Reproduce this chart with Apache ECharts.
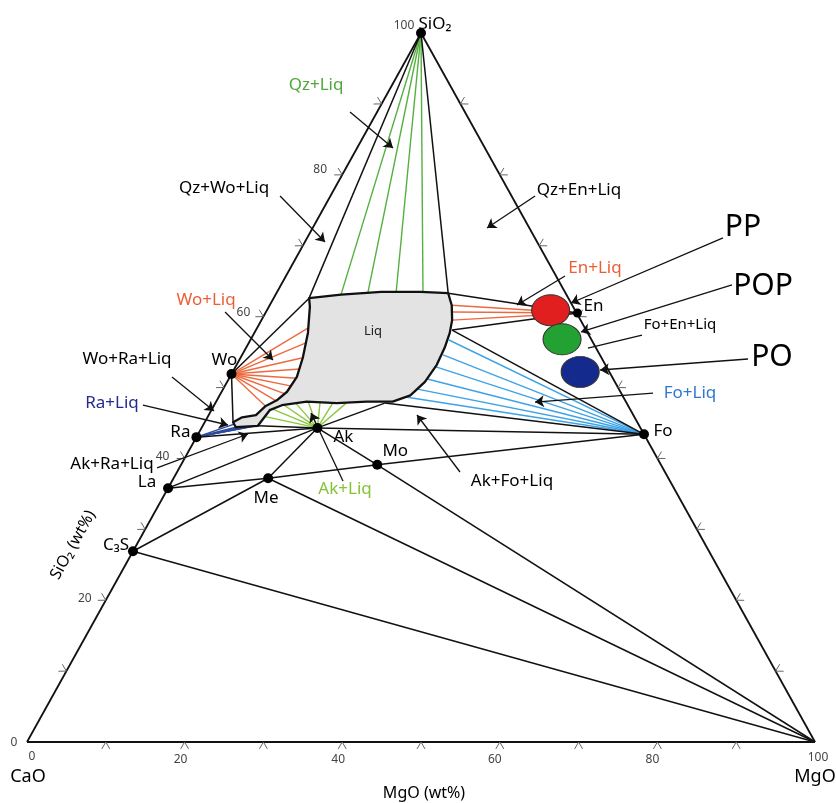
<!DOCTYPE html>
<html>
<head>
<meta charset="utf-8">
<title>CaO–MgO–SiO2</title>
<script src="https://cdn.jsdelivr.net/npm/echarts@6/dist/echarts.min.js"></script>
<style>
html,body{margin:0;padding:0;background:#fff;}
#chart{width:836px;height:803px;}
</style>
</head>
<body>
<div id="chart"></div>
<script>
// ===== DATA: compositions in wt%, given as MgO and SiO2 (CaO = remainder) =====
const phaseNames = ['Wo', 'Ra', 'La', 'C₃S', 'Ak', 'Mo', 'Me', 'Fo', 'En'];
const phaseMgO   = [0, 0, 0, 0, 14.7, 24.9, 12.0, 56.6, 39.6];
const phaseSiO2  = [51.9, 43.0, 35.8, 26.9, 44.3, 39.1, 37.2, 43.4, 60.5];

// liquid field boundary (closed)
const liqMgO  = [4.5, 8.3, 13.2, 18.2, 21.8, 23.1, 24.2, 24.8, 25.2, 25.4, 25.1, 24.2, 22.4, 19.1, 15.4, 11.5, 8.6, 7.4, 7.0, 4.3, 3.6, 4.4, 6.0, 6.6, 7.6, 8.3, 8.5, 7.9, 6.8, 5.2];
const liqSiO2 = [62.6, 63.1, 63.5, 63.5, 63.3, 61.6, 59.5, 57.7, 55.6, 53.2, 50.8, 48.9, 48.0, 48.0, 47.8, 48.0, 47.5, 46.8, 44.6, 44.4, 45.1, 45.8, 46.1, 47.4, 48.2, 49.4, 51.5, 54.2, 57.7, 61.4];

// invariant liquids (corners of the three-phase triangles)
const invNames = ['L_QzWo', 'L_QzEn', 'L_EnFo', 'L_AkFo', 'L_WoRa', 'L_RaAk'];
const invMgO   = [4.5, 21.8, 24.9, 21.5, 3.6, 7.0];
const invSiO2  = [62.6, 63.3, 58.1, 47.8, 45.1, 44.6];

// liquids at the ends of the two-phase tie lines
const qzLiqMgO = [8.3, 11.6, 15.1, 18.5];
const qzLiqSiO2 = [63.1, 63.3, 63.5, 63.5];
const woLiqMgO = [6.5, 7.25, 7.9, 8.3, 8.6, 8.5, 8.2, 7.55, 6.7];
const woLiqSiO2 = [58.4, 56.3, 54.2, 52.6, 51.3, 50.2, 49.1, 48.1, 47.3];
const enLiqMgO = [23.1, 23.7, 24.2];
const enLiqSiO2 = [61.6, 60.65, 59.5];
const foLiqMgO = [25.2, 25.5, 25.45, 25.2, 24.5, 23.5];
const foLiqSiO2 = [56.7, 54.6, 52.9, 51.2, 49.8, 48.7];
const akLiqMgO = [6.8, 7.6, 8.9, 10.2, 11.7, 13.2, 14.9, 16.6];
const akLiqSiO2 = [46.0, 47.0, 47.5, 47.8, 48.0, 48.0, 47.8, 47.8];
const raLiqMgO = [3.8, 4.3, 5.0, 5.6, 6.2, 6.8];
const raLiqSiO2 = [44.8, 44.4, 44.4, 44.4, 44.5, 44.6];

// black tie lines / boundaries
const tieFrom = ['SiO2', 'SiO2', 'Wo', 'En', 'En', 'Fo', 'Fo', 'Ak', 'Ak', 'Wo', 'Ra', 'Ak', 'La', 'La', 'Me', 'Mo', 'C₃S', 'C₃S', 'Me', 'Me', 'Ak', 'Mo'];
const tieTo   = ['L_QzWo', 'L_QzEn', 'L_QzWo', 'L_QzEn', 'L_EnFo', 'L_EnFo', 'L_AkFo', 'L_AkFo', 'Fo', 'L_WoRa', 'Ak', 'L_RaAk', 'Ak', 'Me', 'Mo', 'Fo', 'Me', 'MgO', 'MgO', 'Ak', 'Mo', 'MgO'];

// starting materials
const sampleNames = ['PP', 'POP', 'PO'];
const sampleMgO   = [36.0, 39.5, 44.1];
const sampleSiO2  = [60.9, 56.8, 52.2];

// axis ticks and labels
const tickValues = [10, 20, 30, 40, 50, 60, 70, 80, 90];
const tickLabels = [0, 20, 40, 60, 80, 100];

// ===== LAYOUT / STYLE (not data) =====
const FONT = '"Noto Sans", "DejaVu Sans", sans-serif';
const INK = '#000';
const sampleColors = { PP: '#e11f1f', POP: '#23a132', PO: '#142a8c' };
const phaseLabelOffset = { Wo: [-7, -14], Ra: [-16, -5], La: [-21, -6], 'C₃S': [-17, -6], Ak: [26, 9], Mo: [18, -14], Me: [-2, 20], Fo: [19, -3], En: [16, -7] };
const bottomLabelOffset = { 0: [5, 15], 20: [-4, 18], 40: [-4, 18], 60: [-5, 18], 80: [-5, 18], 100: [3, 16] };
const leftLabelOffset = { 0: [-13, 1], 20: [-21, -2], 40: [-22, -2], 60: [-20, -4], 80: [-22, -5], 100: [-17, -7] };
const C_GREEN = '#4fa83c', C_ORANGE = '#ec5f36', C_BLUE = '#2f78d0', C_NAVY = '#262a8c', C_LGREEN = '#84c236';
// annotation anchors, in the same ternary coordinates [MgO, SiO2]
const annotations = [
  { text: 'Qz+Liq', at: [-9.65, 92.66], from: [-3.44, 88.86], to: [4.56, 83.78], color: C_GREEN },
  { text: 'Qz+Wo+Liq', at: [-14.07, 78.14], from: [-6.39, 77.01], to: [2.56, 70.52] },
  { text: 'Qz+En+Liq', at: [31.12, 77.86], from: [25.97, 77.01], to: [22.13, 72.5] },
  { text: 'En+Liq', at: [38.65, 66.85], from: [35.41, 65.73], to: [31.36, 61.64], color: C_ORANGE },
  { text: 'PP', at: [54.54, 72.64], from: [52.78, 71.09], to: [38.08, 61.92], size: 30 },
  { text: 'POP', at: [61.24, 64.32], from: [57.24, 64.46], to: [41.39, 57.83], size: 30 },
  { text: 'Fo+En+Liq', at: [53.46, 58.82], from: [49.35, 57.4], to: [43.4, 55.57], arrow: false, size: 15 },
  { text: 'PO', at: [67.39, 54.3], from: [64.49, 54.02], to: [46.49, 52.47], size: 30 },
  { text: 'Fo+Liq', at: [59.53, 49.22], from: [54.83, 49.22], to: [40.49, 47.95], color: C_BLUE },
  { text: 'Wo+Liq', at: [-8.45, 62.34], from: [-5.19, 60.65], to: [4.28, 53.88], color: C_ORANGE },
  { text: 'Wo+Ra+Liq', at: [-14.32, 54.02], from: [-7.34, 51.48], to: [0.39, 46.69] },
  { text: 'Ra+Liq', at: [-13.12, 47.81], from: [-9.05, 47.53], to: [3.15, 44.71], color: C_NAVY },
  { text: 'Ak+Ra+Liq', at: [-8.82, 39.21], from: [-2.82, 38.65], to: [6.33, 43.44] },
  { text: 'Ak+Liq', at: [22.52, 35.68], from: [21.69, 36.81], to: [12.84, 46.4], color: C_LGREEN },
  { text: 'Ak+Fo+Liq', at: [43.14, 36.81], from: [35.91, 38.08], to: [26.43, 46.12] },
  { text: 'Liq', at: [14.92, 57.97], size: 13, color: '#222' }
];

// ===== BUILD =====
const tern = (m, s) => [m + s / 2, s];   // ternary (MgO, SiO2) -> cartesian plot units
const P = { CaO: [0, 0], MgO: [100, 0], SiO2: [0, 100] };
phaseNames.forEach((n, i) => { P[n] = [phaseMgO[i], phaseSiO2[i]]; });
invNames.forEach((n, i) => { P[n] = [invMgO[i], invSiO2[i]]; });

const fan = (origin, ms, ss) => ms.map((m, i) => ({ coords: [tern(...P[origin]), tern(m, ss[i])] }));
const seg = (a, b) => ({ coords: [tern(...P[a]), tern(...P[b])] });

function linesSeries(data, color, width, z, extra) {
  return Object.assign({
    type: 'lines', coordinateSystem: 'cartesian2d', data: data, silent: true, z: z,
    lineStyle: { color: color, width: width, opacity: 1, curveness: 0 }, symbol: ['none', 'none']
  }, extra || {});
}

function textItems(list) {
  return {
    type: 'scatter', silent: true, clip: false, z: 20, symbolSize: 1,
    itemStyle: { color: 'rgba(255,255,255,0)', opacity: 1 },
    emphasis: { disabled: true },
    data: list.map(it => ({
      value: it.value,
      label: {
        show: true, position: 'inside', formatter: it.text, offset: it.offset || [0, 0],
        fontSize: it.size || 17, color: it.color || INK, fontFamily: FONT,
        align: 'center', verticalAlign: 'middle', opacity: 1, textBorderWidth: 0
      }
    }))
  };
}

const chart = echarts.init(document.getElementById('chart'));

const tieData = tieFrom.map((a, i) => seg(a, tieTo[i]));
const edgeData = [seg('CaO', 'MgO'), seg('MgO', 'SiO2'), seg('SiO2', 'CaO')];

const arrowData = annotations.filter(a => a.from && a.arrow !== false).map(a => ({ coords: [tern(...a.from), tern(...a.to)] }));
const plainLeaderData = annotations.filter(a => a.from && a.arrow === false).map(a => ({ coords: [tern(...a.from), tern(...a.to)] }));

const labelList = annotations.map(a => ({ value: tern(...a.at), text: a.text, size: a.size, color: a.color }));
tickLabels.forEach(v => {
  labelList.push({ value: tern(v, 0), text: String(v), offset: bottomLabelOffset[v], size: 12, color: '#444' });
  labelList.push({ value: tern(0, v), text: String(v), offset: leftLabelOffset[v], size: 12, color: '#444' });
});
labelList.push({ value: tern(0, 0), text: 'CaO', offset: [1, 35], size: 18, color: INK });
labelList.push({ value: tern(100, 0), text: 'MgO', offset: [0, 35], size: 18, color: INK });
labelList.push({ value: tern(0, 100), text: 'SiO₂', offset: [14, -9], size: 17, color: INK });

const option = {
  animation: false,
  backgroundColor: '#fff',
  textStyle: { fontFamily: FONT },
  grid: { left: 27, top: 33, width: 788, height: 709, containLabel: false },
  xAxis: { type: 'value', min: 0, max: 100, show: false },
  yAxis: { type: 'value', min: 0, max: 100, show: false },
  graphic: [
    { type: 'text', x: 424, y: 793, z: 30,
      style: { text: 'MgO (wt%)', font: '16px ' + FONT, fill: INK, align: 'center', verticalAlign: 'middle', textAlign: 'center', textVerticalAlign: 'middle' } },
    { type: 'text', x: 73, y: 545, rotation: 60.9 * Math.PI / 180, z: 30,
      style: { text: 'SiO₂ (wt%)', font: '16px ' + FONT, fill: INK, align: 'center', verticalAlign: 'middle', textAlign: 'center', textVerticalAlign: 'middle' } }
  ],
  series: [
    // coloured two-phase tie lines
    linesSeries(fan('SiO2', qzLiqMgO, qzLiqSiO2), '#55b040', 1.4, 2),
    linesSeries(fan('Wo', woLiqMgO, woLiqSiO2), '#ec6a40', 1.4, 2),
    linesSeries(fan('En', enLiqMgO, enLiqSiO2), '#ec6a40', 1.4, 2),
    linesSeries(fan('Fo', foLiqMgO, foLiqSiO2), '#3ea2e6', 1.4, 2),
    linesSeries(fan('Ak', akLiqMgO, akLiqSiO2), '#8cc63e', 1.4, 2),
    linesSeries(fan('Ra', raLiqMgO, raLiqSiO2), '#2d4a9e', 1.5, 2),
    // black tie lines and triangle edges
    linesSeries(tieData, '#111', 1.5, 3),
    linesSeries(edgeData, '#111', 1.8, 3),
    // liquid field
    {
      type: 'custom', coordinateSystem: 'cartesian2d', data: [[0, 0]], z: 4, silent: true,
      renderItem: function (params, api) {
        return {
          type: 'polygon',
          shape: { points: liqMgO.map((m, i) => api.coord(tern(m, liqSiO2[i]))) },
          style: { fill: '#e3e3e3', stroke: '#111', lineWidth: 2.3, lineJoin: 'round' }
        };
      }
    },
    // edge ticks (chevrons)
    {
      type: 'custom', coordinateSystem: 'cartesian2d', data: tickValues.map(v => [v, 0]), z: 4, silent: true,
      renderItem: function (params, api) {
        const v = api.value(0);
        const A = api.coord(tern(0, 0)), B = api.coord(tern(100, 0)), C = api.coord(tern(0, 100));
        const defs = [[A, B, C, tern(v, 0)], [A, C, B, tern(0, v)], [B, C, A, tern(100 - v, v)]];
        const children = defs.map(function (d) {
          const p = d[0], q = d[1], r = d[2], o = api.coord(d[3]);
          let dx = q[0] - p[0], dy = q[1] - p[1];
          const L = Math.hypot(dx, dy); dx /= L; dy /= L;
          let nx = -dy, ny = dx;
          if ((r[0] - o[0]) * nx + (r[1] - o[1]) * ny > 0) { nx = -nx; ny = -ny; }
          const rot = a => [nx * Math.cos(a) - ny * Math.sin(a), nx * Math.sin(a) + ny * Math.cos(a)];
          const a1 = rot(Math.PI / 6), a2 = rot(-Math.PI / 6), len = 8;
          return {
            type: 'polyline',
            shape: { points: [[o[0] + a1[0] * len, o[1] + a1[1] * len], [o[0], o[1]], [o[0] + a2[0] * len, o[1] + a2[1] * len]] },
            style: { stroke: '#666', lineWidth: 1, fill: null }
          };
        });
        return { type: 'group', children: children };
      }
    },
    // leader lines
    linesSeries(arrowData, '#111', 1.3, 6, { symbol: ['none', 'arrow'], symbolSize: 9 }),
    linesSeries(plainLeaderData, '#111', 1.3, 6),
    // starting-material compositions
    {
      type: 'scatter', silent: true, z: 7, clip: false,
      data: sampleNames.map((n, i) => ({ name: n, value: tern(sampleMgO[i], sampleSiO2[i]), itemStyle: { color: sampleColors[n] } })),
      symbol: 'circle', symbolSize: [38, 31],
      itemStyle: { borderColor: '#333', borderWidth: 1, opacity: 1 }
    },
    // phase compositions
    {
      type: 'scatter', silent: true, z: 8, clip: false,
      symbolSize: 10, itemStyle: { color: '#000', opacity: 1 },
      data: phaseNames.map((n, i) => ({
        name: n, value: tern(phaseMgO[i], phaseSiO2[i]),
        symbolSize: n === 'En' ? 9 : 10,
        label: { show: true, position: 'inside', formatter: '{b}', offset: phaseLabelOffset[n], fontSize: 17, color: INK, fontFamily: FONT, align: 'center', verticalAlign: 'middle' }
      })).concat([{ name: 'SiO2', value: tern(0, 100), symbolSize: 10 }])
    },
    textItems(labelList)
  ]
};
chart.setOption(option);
</script>
</body>
</html>
